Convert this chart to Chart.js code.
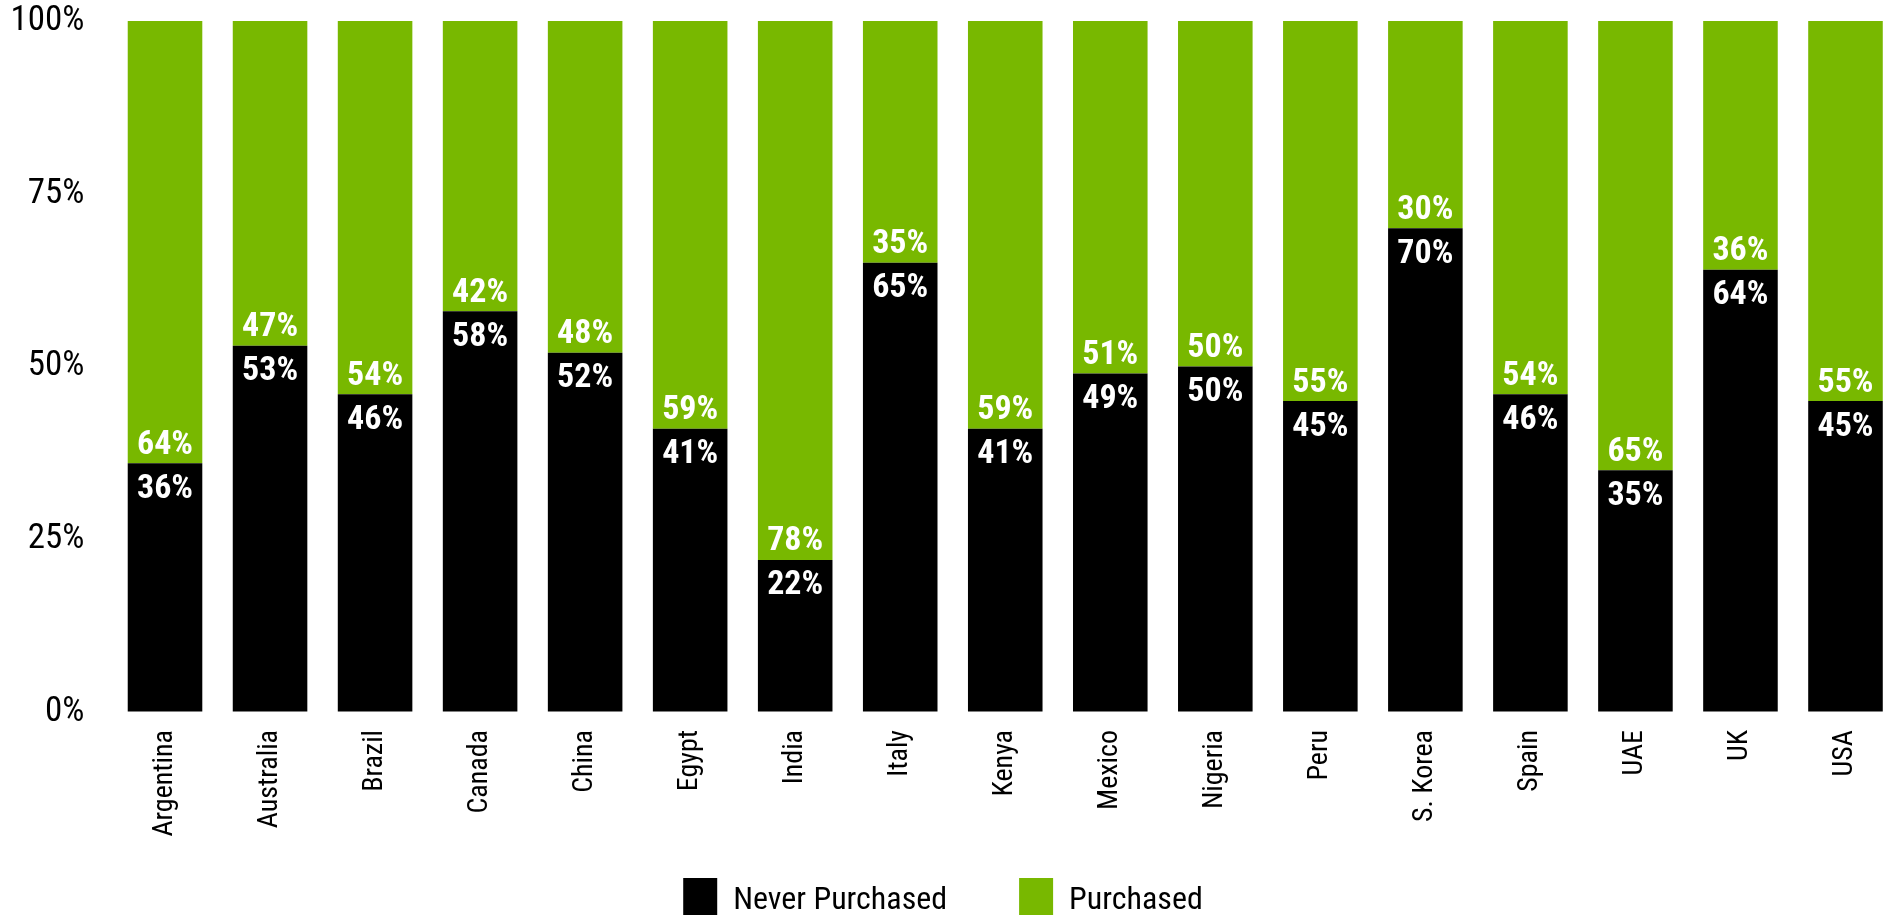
<!DOCTYPE html>
<html>
<head>
<meta charset="utf-8">
<script src="https://cdn.jsdelivr.net/npm/chart.js@4.4.1/dist/chart.umd.min.js"></script>
<style>
  html, body { margin: 0; padding: 0; background: #fff; overflow: hidden; }
  #wrap { position: relative; width: 1898px; height: 915px; }
</style>
</head>
<body>
<div id="wrap"><canvas id="purchaseChart"></canvas></div>
<script>
const countries = ['Argentina', 'Australia', 'Brazil', 'Canada', 'China', 'Egypt', 'India', 'Italy',
    'Kenya', 'Mexico', 'Nigeria', 'Peru', 'S. Korea', 'Spain', 'UAE', 'UK', 'USA'];
const neverPurchased = [36, 53, 46, 58, 52, 41, 22, 65, 41, 49, 50, 45, 70, 46, 35, 64, 45];
const purchased = [64, 47, 54, 42, 48, 59, 78, 35, 59, 51, 50, 55, 30, 54, 65, 36, 55];
const yTicks = [0, 25, 50, 75, 100];

const FONT = "'Roboto Condensed', Roboto, sans-serif";
const GREEN = '#78b800';

// white percentages inside each segment
const barLabels = {
    id: 'barLabels',
    afterDatasetsDraw(chart) {
        const ctx = chart.ctx;
        ctx.save();
        ctx.font = 'bold 34px ' + FONT;
        ctx.fillStyle = '#fff';
        ctx.textAlign = 'center';
        ctx.textBaseline = 'middle';
        chart.data.datasets.forEach((ds, di) => {
            chart.getDatasetMeta(di).data.forEach((bar, i) => {
                const y = di === 0 ? bar.y + 26 : bar.base - 18;
                ctx.fillText(ds.data[i] + '%', bar.x, y);
            });
        });
        ctx.restore();
    }
};

// legend sits a bit left of centre; country names may run past the axis box
const layoutTweaks = {
    id: 'layoutTweaks',
    afterLayout(chart) {
        chart.legend.left -= 6;
        chart.legend.right -= 6;
        chart.scales.x.bottom = chart.height;
    }
};

new Chart(document.getElementById('purchaseChart'), {
    type: 'bar',
    data: {
        labels: countries,
        datasets: [{
            label: 'Never Purchased',
            data: neverPurchased,
            backgroundColor: '#000'
        }, {
            label: 'Purchased',
            data: purchased,
            backgroundColor: GREEN
        }]
    },
    options: {
        responsive: true,
        maintainAspectRatio: false,
        animation: false,
        barPercentage: 0.71,
        categoryPercentage: 1,
        layout: {
            padding: { top: 21, left: 0, right: 0, bottom: -19 }
        },
        plugins: {
            tooltip: { enabled: false },
            legend: {
                position: 'bottom',
                labels: {
                    boxWidth: 34,
                    boxHeight: 46,
                    padding: 72,
                    color: '#000',
                    font: { family: FONT, size: 32 }
                }
            }
        },
        scales: {
            x: {
                stacked: true,
                grid: { display: false, drawTicks: false },
                border: { display: false },
                ticks: {
                    minRotation: 90,
                    maxRotation: 90,
                    padding: 18,
                    color: '#000',
                    font: { family: FONT, size: 28 }
                },
                afterFit(scale) { scale.height = 94; }
            },
            y: {
                stacked: true,
                min: 0,
                max: 100,
                afterBuildTicks(scale) {
                    scale.ticks = yTicks.map(v => ({ value: v }));
                },
                grid: {
                    display: true,
                    drawOnChartArea: false,
                    drawTicks: true,
                    tickLength: 28,
                    color: 'rgba(0,0,0,0)'
                },
                border: { display: false },
                ticks: {
                    padding: 0,
                    color: '#000',
                    font: { family: FONT, size: 35 },
                    callback: v => v + '%'
                },
                afterFit(scale) { scale.width = 112.5; }
            }
        }
    },
    plugins: [barLabels, layoutTweaks]
});
</script>
</body>
</html>
